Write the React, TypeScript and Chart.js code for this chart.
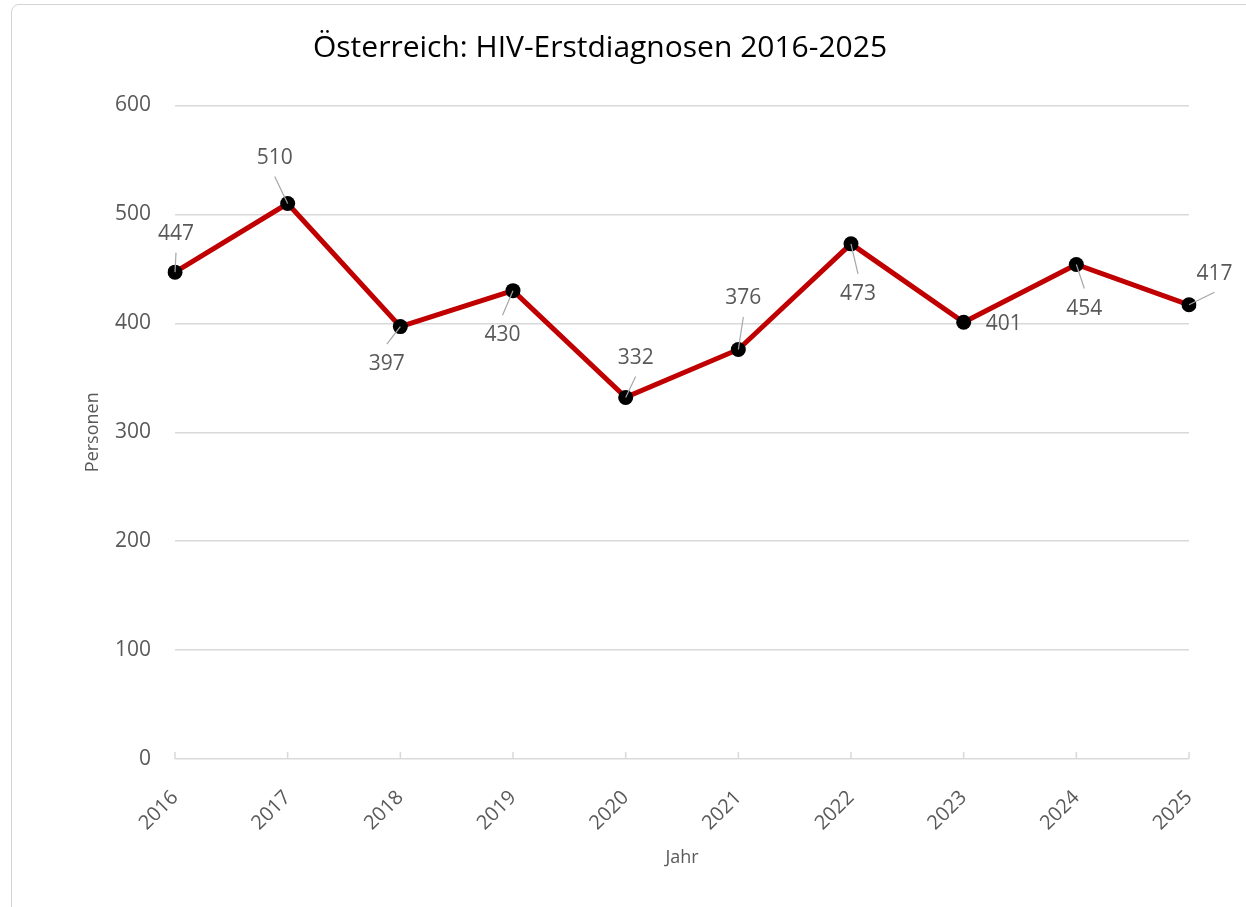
import React, { useEffect, useRef } from "react";
import { Chart, registerables } from "chart.js";

Chart.register(...registerables);

const years = ["2016", "2017", "2018", "2019", "2020", "2021", "2022", "2023", "2024", "2025"];
const diagnoses = [447, 510, 397, 430, 332, 376, 473, 401, 454, 417];
const titleText = "Österreich: HIV-Erstdiagnosen 2016-2025";
const yAxisTitle = "Personen";
const xAxisTitle = "Jahr";

const FONT = "'Open Sans', 'Noto Sans', sans-serif";
const GRAY = "#595959";

// label placement relative to the marker (style, not data)
const labelPlacement = [
  { dx: 1, dy: -38, leader: true },
  { dx: -13, dy: -45.5, leader: true },
  { dx: -13.5, dy: 37.5, leader: true },
  { dx: -10.5, dy: 44.5, leader: true },
  { dx: 10, dy: -39.5, leader: true },
  { dx: 5, dy: -51, leader: true },
  { dx: 7, dy: 50, leader: true },
  { dx: 40, dy: 2, leader: false },
  { dx: 8, dy: 44, leader: true },
  { dx: 25.5, dy: -31, leader: true },
];

const dataLabelPlugin = {
  id: "dataLabels",
  afterDatasetsDraw(chart: any) {
    const ctx = chart.ctx;
    const meta = chart.getDatasetMeta(0);
    const values = chart.data.datasets[0].data;
    ctx.save();
    meta.data.forEach((pt: any, i: number) => {
      const p = labelPlacement[i];
      const cx = pt.x + p.dx;
      const cy = pt.y + p.dy;
      if (p.leader) {
        const ey = cy + (p.dy < 0 ? 18.5 : -20);
        ctx.strokeStyle = "#a6a6a6";
        ctx.lineWidth = 1.2;
        ctx.beginPath();
        ctx.moveTo(pt.x, pt.y);
        ctx.lineTo(cx, ey);
        ctx.stroke();
      }
      ctx.fillStyle = GRAY;
      ctx.font = `21px ${FONT}`;
      ctx.textAlign = "center";
      ctx.textBaseline = "middle";
      ctx.fillText(String(values[i]), cx, cy);
    });
    ctx.restore();
  },
};

const tickMarkPlugin = {
  id: "tickMarks",
  afterDraw(chart: any) {
    const ctx = chart.ctx;
    const xs = chart.scales.x;
    const bottom = chart.chartArea.bottom;
    ctx.save();
    ctx.strokeStyle = "#d9d9d9";
    ctx.lineWidth = 1.5;
    xs.ticks.forEach((_t: any, i: number) => {
      const px = xs.getPixelForTick(i);
      ctx.beginPath();
      ctx.moveTo(px, bottom);
      ctx.lineTo(px, bottom - 7);
      ctx.stroke();
    });
    ctx.restore();
  },
};

export default function App() {
  const ref = useRef<HTMLCanvasElement>(null);
  useEffect(() => {
    if (!ref.current) return;
    const chart = new Chart(ref.current, {
      type: "line",
      data: {
        labels: years,
        datasets: [
          {
            data: diagnoses,
            borderColor: "#C00000",
            borderWidth: 5,
            pointRadius: 7.5,
            pointBackgroundColor: "#000000",
            pointBorderColor: "#000000",
            pointBorderWidth: 0,
            tension: 0,
          },
        ],
      },
      options: {
        responsive: false,
        animation: false,
        layout: { padding: { left: 11, right: 57, top: 0, bottom: 0 } },
        plugins: {
          legend: { display: false },
          tooltip: { enabled: false },
          title: {
            display: true,
            text: titleText,
            color: "#000000",
            font: { family: FONT, size: 30, weight: "normal" },
            padding: { top: 30, bottom: 39.5 },
          },
        },
        scales: {
          x: {
            grid: { display: false },
            border: { display: false },
            ticks: {
              color: GRAY,
              font: { family: FONT, size: 20 },
              maxRotation: 45,
              minRotation: 45,
              padding: 19,
            },
            title: {
              display: true,
              text: xAxisTitle,
              color: GRAY,
              font: { family: FONT, size: 18 },
              padding: { top: 0, bottom: 38 },
            },
            afterFit(scale: any) {
              scale.height = 148;
            },
          },
          y: {
            min: 0,
            max: 600,
            grid: { color: "#d9d9d9", lineWidth: 1.5, drawTicks: false },
            border: { display: false },
            ticks: {
              stepSize: 100,
              color: GRAY,
              font: { family: FONT, size: 21 },
              padding: 24,
            },
            title: {
              display: true,
              text: yAxisTitle,
              color: GRAY,
              font: { family: FONT, size: 18 },
              padding: { top: 71, bottom: 0 },
            },
            afterFit(scale: any) {
              scale.width = 164;
            },
          },
        },
      },
      plugins: [dataLabelPlugin, tickMarkPlugin],
    });
    return () => chart.destroy();
  }, []);

  return (
    <div>
      <div
        style={{
          position: "fixed",
          left: 11,
          top: 4,
          width: 1260,
          height: 920,
          border: "1.5px solid #d4d4d4",
          borderRadius: 8,
          boxSizing: "border-box",
          background: "#ffffff",
        }}
      />
      <canvas
        ref={ref}
        width={1246}
        height={907}
        style={{ position: "fixed", left: 0, top: 0, width: 1246, height: 907 }}
      />
    </div>
  );
}
